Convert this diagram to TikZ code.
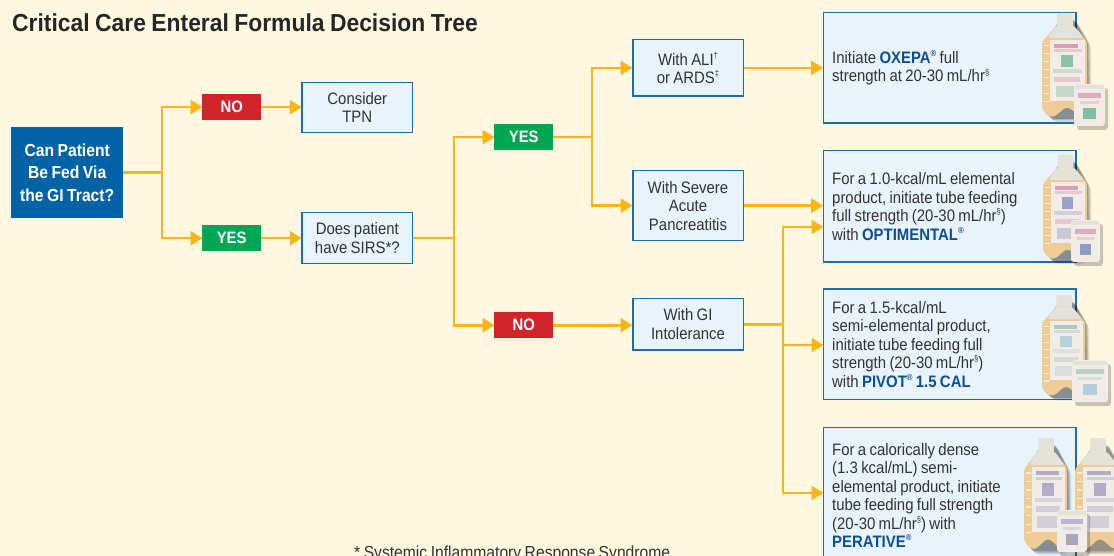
\documentclass[tikz,border=0pt]{standalone}
\usepackage{fontspec}
\setmainfont[FakeStretch=0.9,WordSpace=0.8]{Liberation Sans}
\newfontfamily\titlefont[FakeStretch=0.93,WordSpace=0.85]{Liberation Sans}
\usetikzlibrary{arrows.meta}
\definecolor{pagebg}{HTML}{FFF8E1}
\definecolor{boxfill}{HTML}{E8F3FC}
\definecolor{boxline}{HTML}{1F6CA8}
\definecolor{mainblue}{HTML}{0063A6}
\definecolor{nored}{HTML}{D2232A}
\definecolor{yesgreen}{HTML}{00A651}
\definecolor{arrowcol}{HTML}{FDB515}
\definecolor{brandblue}{HTML}{0B4F94}
\definecolor{bodytan}{HTML}{EFCB96}
\definecolor{labelpale}{HTML}{F1ECE8}
\definecolor{capgrey}{HTML}{E4E3DA}
\definecolor{inktext}{HTML}{333333}
\definecolor{mkpink}{HTML}{C8608C}
\definecolor{mkgreen}{HTML}{3E9E78}
\definecolor{mkblue}{HTML}{5068A8}
\definecolor{mkteal}{HTML}{7FA8A0}
\definecolor{mkcyan}{HTML}{8CBCD0}
\definecolor{mkviolet}{HTML}{8078A8}
\newcommand\sups[1]{\raisebox{0.42em}{\fontsize{8.5}{8.5}\selectfont #1}}
\newcommand\brand[1]{{\bfseries\color{brandblue}#1}}
\newcommand\bigtext{\fontsize{16.6}{18.5}\selectfont}
\tikzset{
  every node/.style={text=inktext,font=\bigtext},
  infobox/.style={draw=boxline,fill=boxfill,line width=1.5pt,inner sep=0pt,align=center,minimum width=110.5pt,anchor=north west},
  resultbox/.style={draw=boxline,fill=boxfill,line width=1.5pt,inner sep=0pt,minimum width=252.5pt,text width=235pt,align=flush left,anchor=north west},
  tagbox/.style={inner sep=0pt,minimum width=59pt,minimum height=26pt,text=white,font={\fontsize{16.5}{18}\selectfont\bfseries},anchor=north west},
  noteb/.style={tagbox,fill=nored},
  yesb/.style={tagbox,fill=yesgreen},
  conn/.style={draw=arrowcol,line width=2.6pt},
  arr/.style={conn,-{Triangle[length=12pt,width=14pt]},shorten >=-0.5pt},
}
% bottle: #1 x, #2 y, #3 x-scale, #4 y-scale, #5 mark colour 1, #6 mark colour 2
\newcommand\bottleshape[6]{%
  \begin{scope}[shift={(#1,#2)},xscale=#3,yscale=#4]
    \foreach \off/\op in {5/0.10,3.5/0.16,2/0.22}
      \fill[black,opacity=\op,rounded corners=3pt,shift={(\off,\off)}]
        (16,4)--(30,4)--(44,28)--(45,98)--(36,104)--(8,104)--(0,96)--(0,30)--cycle;
    \fill[capgrey,rounded corners=2pt] (15,0)--(31,0)--(31,14)--(15,14)--cycle;
    \fill[bodytan,rounded corners=3pt]
      (15,12)--(31,12)--(45,28)--(45,98)--(38,104)--(29,96)--(24,94)--(12,104)--(6,103)--(0,96)--(0,29)--cycle;
    \fill[capgrey,rounded corners=3pt] (15,12)--(31,12)--(42,25)--(5,25)--cycle;
    \fill[labelpale] (8,27) rectangle (43,88);
    \foreach \ty in {32,40,...,88} \fill[white,opacity=0.7] (2,\ty) rectangle ++(5,1.2);
    \fill[#5,opacity=0.55] (12,31) rectangle (36,35);
    \fill[#5,opacity=0.25] (12,36) rectangle (40,39);
    \fill[#6,opacity=0.55] (19,42) rectangle (31,54);
    \fill[#6,opacity=0.20] (11,56) rectangle (40,60);
    \fill[#5,opacity=0.25] (12,64) rectangle (38,69);
    \fill[#6,opacity=0.25] (14,73) rectangle (34,84);
  \end{scope}}
% cup: #1 x, #2 y, #3 w, #4 h, #5, #6 mark colours
\newcommand\cupshape[6]{%
  \fill[black,opacity=0.22,rounded corners=3pt] (#1+3,#2+4) rectangle ++(#3,#4);
  \fill[labelpale,rounded corners=3pt] (#1,#2) rectangle ++(#3,#4);
  \fill[capgrey] (#1+1,#2+1) rectangle ++(#3-2,4);
  \fill[#5,opacity=0.45] (#1+4,#2+9) rectangle ++(#3-8,5);
  \fill[#5,opacity=0.2] (#1+6,#2+17) rectangle ++(#3-12,3);
  \fill[#6,opacity=0.6] (#1+#3*0.3,#2+#4*0.58) rectangle ++(#3*0.4,#4*0.25);
}
\begin{document}
\begin{tikzpicture}[x=1pt,y=-1pt]
\useasboundingbox (0,0) rectangle (1114,556);
\clip (0,0) rectangle (1114,556);
\fill[pagebg] (0,0) rectangle (1114,556);

\node[anchor=base west,inner sep=0pt,font={\titlefont\fontsize{24.6}{26}\selectfont\bfseries},text=black!85] (title) at (12,32) {Critical Care Enteral Formula Decision Tree};

\node[fill=mainblue,text=white,inner sep=0pt,minimum width=112pt,minimum height=91pt,align=center,font={\fontsize{17.4}{22.5}\selectfont\bfseries},anchor=north west] (main) at (11,127) {Can Patient\\Be Fed Via\\the GI Tract?};

\node[noteb] (no1) at (202,94) {NO};
\node[yesb] (yes1) at (202,225) {YES};
\node[infobox,minimum height=50pt] (tpn) at (301.3,81.7) {Consider\\TPN};
\node[infobox,minimum height=51pt] (sirs) at (301.3,211.7) {Does patient\\have SIRS*?};
\node[yesb] (yes2) at (494,124) {YES};
\node[noteb] (no2) at (494,312) {NO};
\node[infobox,minimum height=56.2pt] (ali) at (632,39) {With ALI\sups{†}\\or ARDS\sups{‡}};
\node[infobox,minimum height=69.8pt] (panc) at (632,170) {With Severe\\Acute\\Pancreatitis};
\node[infobox,minimum height=51.5pt] (gi) at (632,297.7) {With GI\\Intolerance};

\node[resultbox,minimum height=110.5pt] (oxepa) at (822.7,12) {Initiate \brand{OXEPA\sups{®}} full\\strength at 20-30 mL/hr\sups{§}};
\node[resultbox,minimum height=111.2pt] (optimental) at (822.7,150) {For a 1.0-kcal/mL elemental\\product, initiate tube feeding\\full strength (20-30 mL/hr\sups{§})\\with \brand{OPTIMENTAL\sups{®}}};
\node[resultbox,minimum height=110.5pt] (pivot) at (822.7,288.3) {For a 1.5-kcal/mL\\semi-elemental product,\\initiate tube feeding full\\strength (20-30 mL/hr\sups{§})\\with \brand{PIVOT\sups{®} 1.5 CAL}};
\node[resultbox,minimum height=136pt] (perative) at (822.7,426.7) {For a calorically dense\\(1.3 kcal/mL) semi-\\elemental product, initiate\\tube feeding full strength\\(20-30 mL/hr\sups{§}) with\\\brand{PERATIVE\sups{®}}};

\node[anchor=base west,inner sep=0pt,font={\fontsize{17.4}{19}\selectfont}] (foot) at (354,558.5) {* Systemic Inflammatory Response Syndrome};

% junctions
\coordinate (j1) at (162,172.5);
\coordinate (j2) at (454,238);
\coordinate (j3) at (592,137);
\coordinate (j4) at (783,324);
\coordinate (optin) at (823,227);
\coordinate (pivin) at (823,345);
\coordinate (perin) at (823,493);

\draw[conn] (main.east |- j1) -- (j1);
\draw[arr] (j1) |- (no1.west);
\draw[arr] (j1) |- (yes1.west);
\draw[arr] (no1.east) -- (no1.east -| tpn.west);
\draw[arr] (yes1.east) -- (yes1.east -| sirs.west);
\draw[conn] (sirs.east |- j2) -- (j2);
\draw[arr] (j2) |- (yes2.west);
\draw[arr] (j2) |- (no2.west);
\draw[conn] (yes2.east) -- (yes2.east -| j3);
\draw[arr] (yes2.east -| j3) |- (ali.west);
\draw[arr] (yes2.east -| j3) |- (panc.west);
\draw[arr] (no2.east) -- (no2.east -| gi.west);
\draw[arr] (ali.east) -- (ali.east -| oxepa.west);
\draw[arr] (panc.east) -- (panc.east -| optimental.west);
\draw[conn] (gi.east) -- (gi.east -| j4);
\draw[arr] (gi.east -| j4) |- (optin);
\draw[arr] (gi.east -| j4) |- (pivin);
\draw[arr] (gi.east -| j4) |- (perin);

% product pictures
\bottleshape{1042}{13}{1}{1}{mkpink}{mkgreen}
\cupshape{1074}{84}{31}{42}{mkpink}{mkgreen}
\bottleshape{1043}{155}{0.98}{1}{mkpink}{mkblue}
\cupshape{1071}{220}{29}{42}{mkpink}{mkblue}
\bottleshape{1042}{295}{0.96}{0.97}{mkteal}{mkcyan}
\cupshape{1072}{360}{36}{42}{mkteal}{mkcyan}
\bottleshape{1024}{438}{0.96}{1.07}{mkviolet}{mkviolet}
\bottleshape{1075}{438}{1}{1.07}{mkviolet}{mkviolet}
\cupshape{1057}{510}{30}{42}{mkviolet}{mkviolet}
\end{tikzpicture}
\end{document}
